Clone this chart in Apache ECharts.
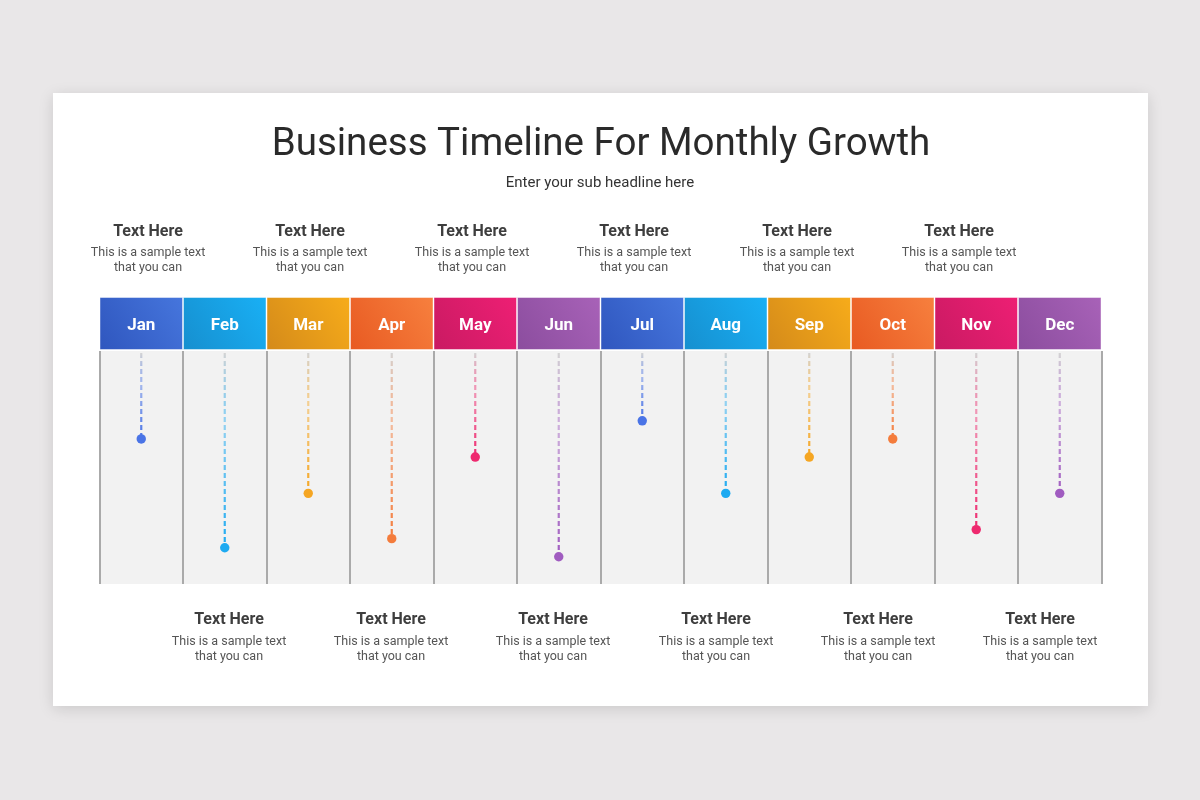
<!DOCTYPE html>
<html>
<head>
<meta charset="utf-8">
<script src="https://cdn.jsdelivr.net/npm/echarts@6/dist/echarts.min.js"></script>
<style>
  html, body { margin: 0; padding: 0; background: #e9e7e8; }
  #chart { width: 1200px; height: 800px; }
</style>
</head>
<body>
<div id="chart"></div>
<script>
// months and how far down each marker sits (units above the panel floor)
const months = ['Jan', 'Feb', 'Mar', 'Apr', 'May', 'Jun', 'Jul', 'Aug', 'Sep', 'Oct', 'Nov', 'Dec'];
const levels = [16, 4, 10, 5, 14, 3, 18, 10, 14, 16, 6, 10];
const headerFill = [1, 1, 1, 1, 1, 1, 1, 1, 1, 1, 1, 1];
const levelMax = 25.7;

const title = 'Business Timeline For Monthly Growth';
const subTitle = 'Enter your sub headline here';
const noteHead = 'Text Here';
const noteBody = 'This is a sample text\nthat you can';
const topNotes = [148, 310, 472, 634, 797, 959];
const bottomNotes = [229, 391, 553, 716, 878, 1040];

// [light, dark] per header, dot colour
const headLight = ['#4676dd', '#19b0f5', '#f7ac1a', '#f7803e', '#ee1f74', '#a862b8'];
const headDark = ['#2f56be', '#168fcf', '#d48a1a', '#e85a22', '#c91a62', '#8b4d9e'];
const dotColors = ['#4a74e6', '#1eaaf1', '#f5a623', '#f47c3c', '#ee2a6f', '#a05cc0'];

const FONT = 'Roboto, "Noto Sans", sans-serif';
const chart = echarts.init(document.getElementById('chart'));

function noteGraphics(xs, y) {
    const out = [];
    xs.forEach(x => {
        out.push({
            type: 'text', x: x, y: y,
            style: { text: noteHead, fill: '#3e3e3e', font: 'bold 16px ' + FONT, textAlign: 'center', textVerticalAlign: 'middle' }
        });
        out.push({
            type: 'text', x: x, y: y + 14,
            style: { text: noteBody, fill: '#555', font: '12.5px ' + FONT, textAlign: 'center', textVerticalAlign: 'top', lineHeight: 15 }
        });
    });
    return out;
}

const option = {
    backgroundColor: '#e9e7e8',
    animation: false,
    graphic: [
        {
            type: 'rect', z: -10,
            shape: { x: 53, y: 93, width: 1095, height: 613 },
            style: { fill: '#fff', shadowBlur: 14, shadowColor: 'rgba(0,0,0,0.13)', shadowOffsetY: 3 }
        },
        {
            type: 'text', x: 601, y: 145,
            style: { text: title, fill: '#2a2a2a', font: '38.5px ' + FONT, textAlign: 'center', textVerticalAlign: 'middle' }
        },
        {
            type: 'text', x: 600, y: 183,
            style: { text: subTitle, fill: '#333', font: '15px ' + FONT, textAlign: 'center', textVerticalAlign: 'middle' }
        }
    ].concat(noteGraphics(topNotes, 231.5), noteGraphics(bottomNotes, 620)),
    grid: [
        { left: 99.5, top: 297, width: 1002, height: 53 },
        { left: 99.5, top: 351, width: 1002, height: 233, show: true, backgroundColor: '#f2f2f2', borderWidth: 0 }
    ],
    xAxis: [
        { type: 'category', gridIndex: 0, data: months, show: false },
        {
            type: 'category', gridIndex: 1, data: months,
            axisLine: { show: false }, axisTick: { show: false }, axisLabel: { show: false },
            splitLine: { show: true, lineStyle: { color: '#aaaaaa', width: 2 } }
        }
    ],
    yAxis: [
        { type: 'value', gridIndex: 0, min: 0, max: 1, show: false },
        { type: 'value', gridIndex: 1, min: 0, max: levelMax, show: false }
    ],
    series: [
        {
            type: 'bar', xAxisIndex: 0, yAxisIndex: 0,
            barCategoryGap: '0%',
            data: headerFill.map((v, i) => ({
                value: v,
                itemStyle: {
                    color: new echarts.graphic.LinearGradient(1, 0, 0, 1, [
                        { offset: 0, color: headLight[i % 6] },
                        { offset: 1, color: headDark[i % 6] }
                    ]),
                    borderColor: 'rgba(255,255,255,0.45)',
                    borderWidth: 1
                }
            })),
            label: {
                show: true, position: 'inside', offset: [0, 2],
                formatter: p => months[p.dataIndex],
                color: '#fff', fontSize: 17, fontWeight: 'bold', fontFamily: FONT
            }
        },
        {
            type: 'custom', xAxisIndex: 1, yAxisIndex: 1,
            data: levels.map((v, i) => [i, v]),
            renderItem: function (params, api) {
                const pt = api.coord([api.value(0), api.value(1)]);
                const top = api.coord([api.value(0), levelMax])[1] + 2;
                const c = dotColors[params.dataIndex % 6];
                return {
                    type: 'group',
                    children: [
                        {
                            type: 'line',
                            shape: { x1: pt[0], y1: top, x2: pt[0], y2: pt[1] - 4 },
                            style: {
                                stroke: {
                                    type: 'linear', global: true,
                                    x: pt[0], y: top, x2: pt[0], y2: pt[1],
                                    colorStops: [
                                        { offset: 0, color: 'rgba(210,210,210,0.95)' },
                                        { offset: 0.35, color: echarts.color.modifyAlpha(c, 0.45) },
                                        { offset: 1, color: c }
                                    ]
                                },
                                lineWidth: 2.2, lineDash: [5, 3]
                            }
                        },
                        {
                            type: 'circle',
                            shape: { cx: pt[0], cy: pt[1], r: 4.7 },
                            style: { fill: c }
                        }
                    ]
                };
            }
        }
    ]
};

chart.setOption(option);
</script>
</body>
</html>
